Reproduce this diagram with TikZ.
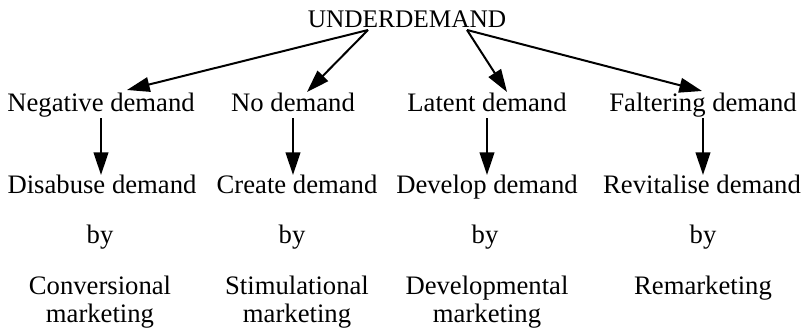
\documentclass[tikz,border=0pt]{standalone}
\usepackage{fontspec}
\setmainfont{Liberation Serif}
\usetikzlibrary{arrows.meta}

\tikzset{every picture/.style={line width=1.5pt}}
\tikzset{
  lbl/.style={anchor=base,inner sep=0.75pt,text height=12pt,text depth=4pt,font=\fontsize{20}{21}\selectfont,align=center},
  arr/.style={-{Triangle[length=17pt,width=11pt]}}
}

\begin{document}
\begin{tikzpicture}[x=0.75pt,y=0.75pt,yscale=-1,xscale=1]
\useasboundingbox (0,0) rectangle (812,335);

% Top heading
\draw (407,28) node (und) [lbl,font=\fontsize{19}{21}\selectfont] {UNDERDEMAND};
\coordinate (undl) at (368,30);
\coordinate (undr) at (467,30);

% Kinds of demand
\draw (101,111) node (neg) [lbl] {Negative demand};
\draw (293,111) node (nod) [lbl] {No demand};
\draw (487,111) node (lat) [lbl] {Latent demand};
\draw (703,111) node (fal) [lbl] {Faltering demand};
\coordinate (negtip) at (127,90);
\coordinate (nodtip) at (307,92);
\coordinate (lattip) at (507,92);
\coordinate (faltip) at (702,91);

% Tasks
\draw (102,193) node (dis) [lbl] {Disabuse demand};
\draw (297,193) node (cre) [lbl] {Create demand};
\draw (487,193) node (dev) [lbl] {Develop demand};
\draw (702,193) node (rev) [lbl] {Revitalise demand};

\draw (100,243) node (by1) [lbl] {by};
\draw (292,243) node (by2) [lbl] {by};
\draw (485,243) node (by3) [lbl] {by};
\draw (703,243) node (by4) [lbl] {by};

% Types of marketing (base is the last line)
\draw (100,322) node (con) [lbl] {Conversional\\marketing};
\draw (297,322) node (sti) [lbl] {Stimulational\\marketing};
\draw (487,322) node (dvm) [lbl] {Developmental\\marketing};
\draw (703,294) node (rem) [lbl] {Remarketing};

% Arrows from heading
\draw [arr] (undl) -- (negtip);
\draw [arr] (undl) -- (nodtip);
\draw [arr] (undr) -- (lattip);
\draw [arr] (undr) -- (faltip);

% Arrows down
\draw [arr] (neg.south) -- (neg.south |- dis.north);
\draw [arr] (nod.south) -- (nod.south |- cre.north);
\draw [arr] (lat.south) -- (lat.south |- dev.north);
\draw [arr] (fal.south) -- (fal.south |- rev.north);

\end{tikzpicture}
\end{document}
